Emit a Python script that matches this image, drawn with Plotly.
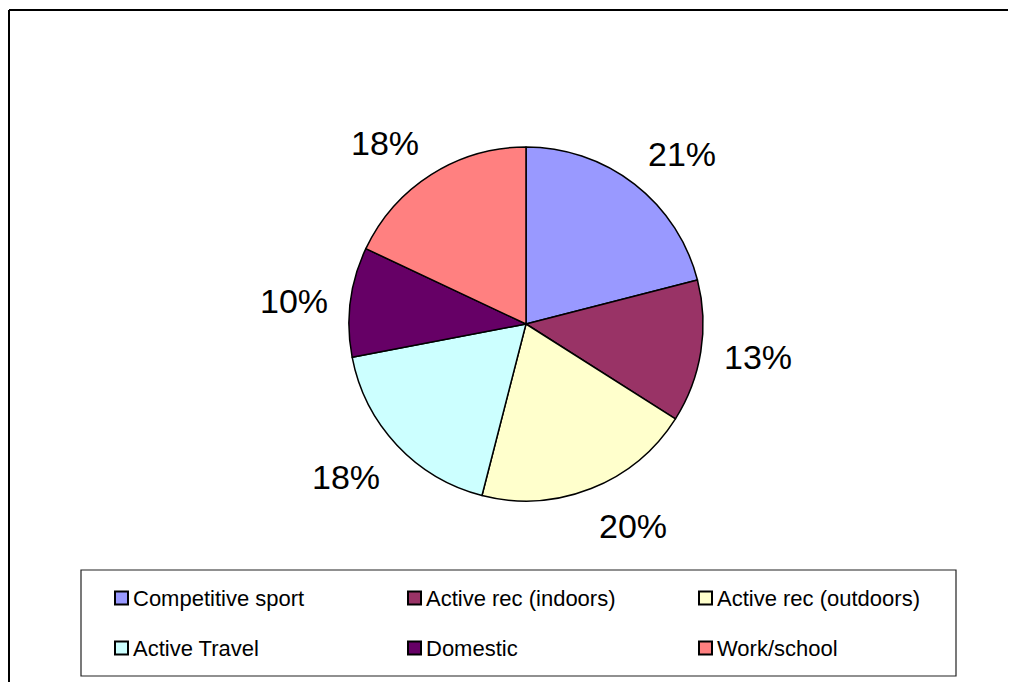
import math

import plotly.graph_objects as go

# data
CATEGORIES = ["Competitive sport", "Active rec (indoors)", "Active rec (outdoors)",
              "Active Travel", "Domestic", "Work/school"]
VALUES = [21, 13, 20, 18, 10, 18]
COLOURS = ["#9999FF", "#993366", "#FFFFCC", "#CCFFFF", "#660066", "#FF8080"]

# page geometry (screen px; body has an 8px margin)
W, H = 1000, 674
OFFSET = 8
FONT = "Arial, Liberation Sans, sans-serif"

CENTER = (526, 324)
RADIUS = 177
LABEL_GAP = 24          # edge of pie -> nearest corner of label
LABEL_W, LABEL_H = 66, 27


def px_x(x):
    return (x - OFFSET) / W


def px_y(y):
    return 1 - (y - OFFSET) / H


def _side(v):
    if v > 0.3:
        return 1
    if v < -0.3:
        return -1
    return 0


fig = go.Figure()
fig.add_trace(go.Pie(
    labels=CATEGORIES,
    values=VALUES,
    sort=False,
    direction="clockwise",
    rotation=0,
    textinfo="none",
    hoverinfo="label+percent",
    showlegend=False,
    marker=dict(colors=COLOURS, line=dict(color="#000000", width=1.5)),
    domain=dict(
        x=[px_x(CENTER[0] - RADIUS), px_x(CENTER[0] + RADIUS)],
        y=[px_y(CENTER[1] + RADIUS), px_y(CENTER[1] - RADIUS)],
    ),
))

# percentage labels placed outside each slice at its mid angle
total = sum(VALUES)
annotations = []
cum = 0
for v in VALUES:
    mid = (cum + v / 2) / total * 2 * math.pi
    cum += v
    ux, uy = math.sin(mid), -math.cos(mid)
    lx = CENTER[0] + (RADIUS + LABEL_GAP) * ux + _side(ux) * LABEL_W / 2
    ly = CENTER[1] + (RADIUS + LABEL_GAP) * uy + _side(uy) * LABEL_H / 2
    annotations.append(dict(
        x=px_x(lx), y=px_y(ly + 2), xref="paper", yref="paper",
        text=f"{round(v / total * 100)}%", showarrow=False,
        xanchor="center", yanchor="middle",
        font=dict(family=FONT, size=34, color="#000000"),
    ))

shapes = [
    # outer chart frame: only left and top edges are inside the picture
    dict(type="line", xref="paper", yref="paper",
         x0=px_x(9), x1=px_x(9), y0=0, y1=px_y(10),
         line=dict(color="#000000", width=2)),
    dict(type="line", xref="paper", yref="paper",
         x0=px_x(9), x1=1, y0=px_y(10), y1=px_y(10),
         line=dict(color="#000000", width=2)),
    dict(type="line", xref="paper", yref="paper",
         x0=1, x1=1, y0=0, y1=px_y(11),
         line=dict(color="#FFFFFF", width=6)),
    # legend box
    dict(type="rect", xref="paper", yref="paper",
         x0=px_x(81), x1=px_x(956), y0=px_y(676), y1=px_y(570),
         line=dict(color="#222222", width=1.2), fillcolor="rgba(0,0,0,0)"),
]

# hand-drawn legend (3 columns x 2 rows)
COL_X = [115, 408, 699]
ROW_Y = [598, 648]
SQ = 13
for i, (name, colour) in enumerate(zip(CATEGORIES, COLOURS)):
    cx = COL_X[i % 3]
    cy = ROW_Y[i // 3]
    shapes.append(dict(
        type="rect", xref="paper", yref="paper",
        x0=px_x(cx), x1=px_x(cx + SQ), y0=px_y(cy + SQ / 2), y1=px_y(cy - SQ / 2),
        fillcolor=colour, line=dict(color="#000000", width=2),
    ))
    annotations.append(dict(
        x=px_x(cx + SQ + 3), y=px_y(cy), xref="paper", yref="paper",
        text=name, showarrow=False, xanchor="left", yanchor="middle",
        font=dict(family=FONT, size=22, color="#000000"),
    ))

fig.update_layout(
    width=W,
    height=H,
    margin=dict(l=0, r=0, t=0, b=0),
    paper_bgcolor="#FFFFFF",
    plot_bgcolor="#FFFFFF",
    font=dict(family=FONT, color="#000000"),
    annotations=annotations,
    shapes=shapes,
)

fig.write_html("out.html")
